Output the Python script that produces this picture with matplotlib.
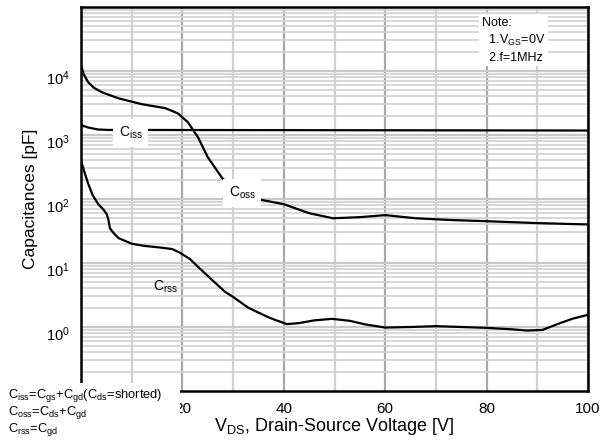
import matplotlib
matplotlib.use("Agg")
import matplotlib.pyplot as plt
import matplotlib.transforms as mtransforms
from matplotlib.patches import Rectangle
from matplotlib.ticker import MultipleLocator, LogLocator, NullFormatter

plt.rcParams['font.family'] = ['Liberation Sans', 'DejaVu Sans']
plt.rcParams['mathtext.fontset'] = 'custom'
plt.rcParams['mathtext.rm'] = 'Liberation Sans'
plt.rcParams['mathtext.it'] = 'Liberation Sans:italic'
plt.rcParams['mathtext.bf'] = 'Liberation Sans:bold'

# values
ciss_v = [0, 0.5, 1.4, 3.3, 5.3, 100]
ciss_c = [1460, 1380, 1310, 1220, 1200, 1175]

coss_v = [0, 0.5, 1.4, 2.5, 4.1, 7.3, 12, 16.6, 19.1, 21.1, 23.1, 25, 27.8, 28.8,
          34.7, 38.3, 40, 45, 49.7, 55, 60, 66, 72.8, 80, 90, 100]
coss_c = [12500, 9000, 6700, 5500, 4670, 3760, 3030, 2630, 2180, 1580, 915, 450, 215, 178,
          100, 88, 83, 60, 50, 52, 56, 50, 47, 45, 42, 40]

crss_v = [0, 0.7, 1.4, 2.3, 3.4, 4.4, 5.06, 5.4, 5.7, 6.4, 7.4, 10, 12.5, 15.5, 18, 19.5,
          21.5, 23.5, 26, 28.4, 30, 33, 36.7, 38.3, 40.6, 43, 46, 49.5, 53, 56, 60, 65,
          70, 75, 80, 85, 88, 91, 94.5, 97, 100]
crss_c = [400, 260, 175, 115, 83, 69, 58, 48, 35, 29.5, 24.5, 20, 18.5, 17.5, 16.5, 14.5,
          11.5, 8.1, 5.3, 3.55, 2.95, 2.0, 1.45, 1.29, 1.11, 1.15, 1.27, 1.34, 1.25, 1.1,
          0.98, 1.0, 1.03, 1.0, 0.97, 0.92, 0.88, 0.9, 1.15, 1.35, 1.55]

xticks = [0, 20, 40, 60, 80, 100]
xticklabels = ['', '20', '40', '60', '80', '100']  # the 0 is hidden under the note block
yticks = [1, 10, 100, 1000, 10000]

fig = plt.figure(figsize=(6.15, 4.4), dpi=100)
ax = fig.add_axes([81 / 615, 1 - 391 / 440, 507 / 615, 384 / 440])

ax.set_yscale('log')
ax.set_xlim(0, 100)
ax.set_ylim(0.1, 1e5)

# grid
ax.set_xticks(xticks)
ax.set_xticklabels(xticklabels)
ax.xaxis.set_minor_locator(MultipleLocator(10))
ax.set_yticks(yticks)
ax.yaxis.set_minor_locator(LogLocator(base=10, subs=range(2, 10), numticks=20))
ax.yaxis.set_minor_formatter(NullFormatter())
ax.grid(which='major', axis='x', color='#a8a8a8', lw=1.6)
ax.grid(which='minor', axis='x', color='#d0d0d0', lw=1.6)
ax.grid(which='major', axis='y', color='#c8c8c8', lw=1.6)
ax.grid(which='minor', axis='y', color='#d4d4d4', lw=1.3)
ax.set_axisbelow(True)

for s in ax.spines.values():
    s.set_linewidth(1.8)
ax.tick_params(which='both', length=0)
ax.tick_params(axis='x', labelsize=11, pad=8)
ax.tick_params(axis='y', labelsize=10.5, pad=8)

# y labels sit a bit below the decade lines in the original
off = mtransforms.ScaledTranslation(0, -6 / 100, fig.dpi_scale_trans)
for lab in ax.get_yticklabels():
    lab.set_transform(lab.get_transform() + off)

ax.plot(ciss_v, ciss_c, color='black', lw=1.6)
ax.plot(coss_v, coss_c, color='black', lw=1.6)
ax.plot(crss_v, crss_c, color='black', lw=1.6)

box = dict(facecolor='white', edgecolor='none', pad=4)
ax.text(9.8, 1070, r'C$_{\rm iss}$', fontsize=10, ha='center', va='center', bbox=box, zorder=4)
ax.text(31.8, 125, r'C$_{\rm oss}$', fontsize=10, ha='center', va='center', bbox=box, zorder=4)
ax.text(16.6, 4.2, r'C$_{\rm rss}$', fontsize=10, ha='center', va='center', zorder=4)

ax.text(0.79, 0.975, 'Note:\n  1.V$_{\\rm GS}$=0V\n  2.f=1MHz', transform=ax.transAxes,
        fontsize=9, ha='left', va='top', linespacing=1.4,
        bbox=dict(facecolor='white', edgecolor='none', pad=2), zorder=4)

ax.set_xlabel(r'V$_{\rm DS}$, Drain-Source Voltage [V]', fontsize=13, labelpad=0)
ax.set_ylabel('Capacitances [pF]', fontsize=12.5, labelpad=6)

# white block with definitions at bottom left
fig.add_artist(Rectangle((0, 0), 180 / 615, 57 / 440, transform=fig.transFigure,
                         facecolor='white', edgecolor='none', zorder=5))
defs = [r'C$_{\rm iss}$=C$_{\rm gs}$+C$_{\rm gd}$(C$_{\rm ds}$=shorted)',
        r'C$_{\rm oss}$=C$_{\rm ds}$+C$_{\rm gd}$',
        r'C$_{\rm rss}$=C$_{\rm gd}$']
for i, t in enumerate(defs):
    fig.text(8 / 615, 1 - (395 + i * 17) / 440, t, fontsize=9.3, ha='left', va='center', zorder=6)

fig.savefig('out.png', dpi=100)
